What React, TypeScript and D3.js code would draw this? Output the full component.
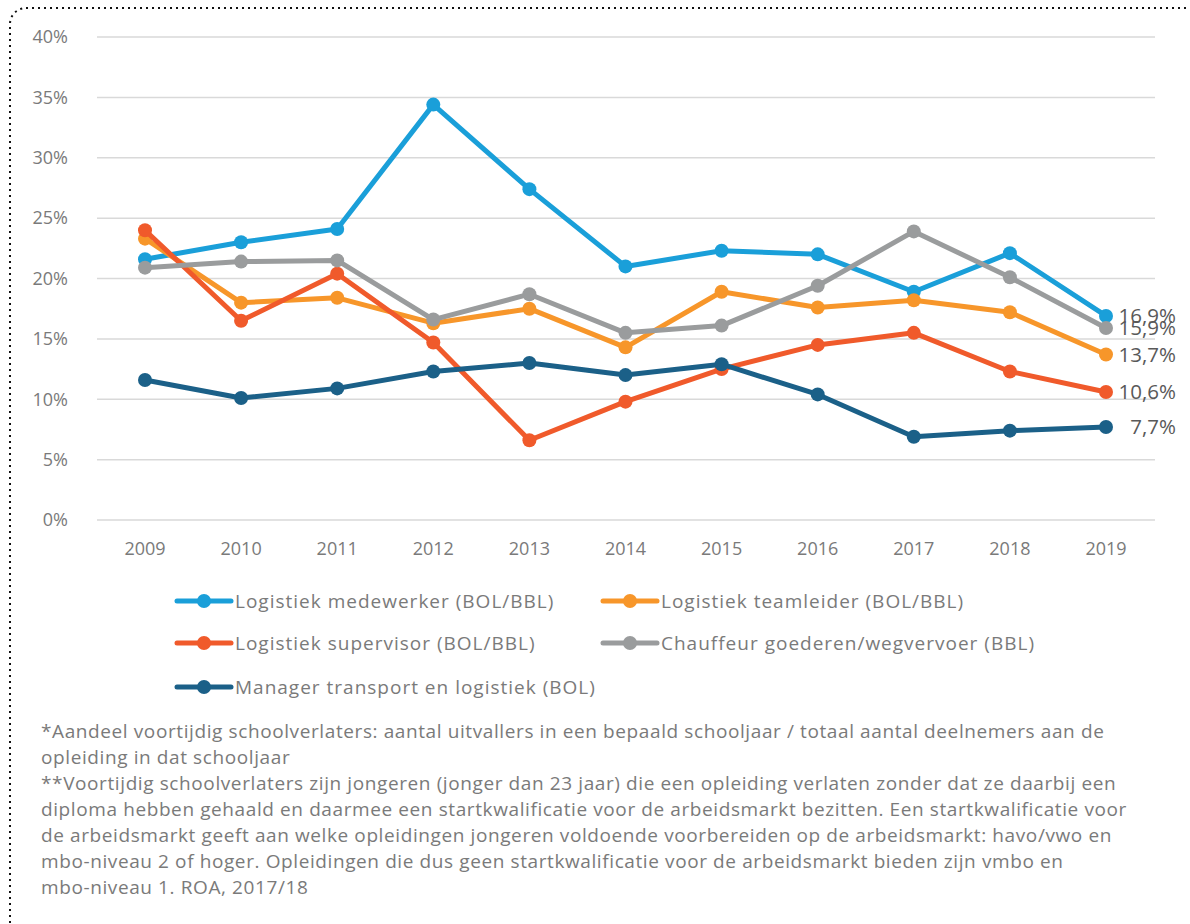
import * as d3 from 'd3'

const years = [2009, 2010, 2011, 2012, 2013, 2014, 2015, 2016, 2017, 2018, 2019]

const medewerker = [21.6, 23.0, 24.1, 34.4, 27.4, 21.0, 22.3, 22.0, 18.9, 22.1, 16.9]
const teamleider = [23.3, 18.0, 18.4, 16.3, 17.5, 14.3, 18.9, 17.6, 18.2, 17.2, 13.7]
const supervisor = [24.0, 16.5, 20.4, 14.7, 6.6, 9.8, 12.5, 14.5, 15.5, 12.3, 10.6]
const chauffeur = [20.9, 21.4, 21.5, 16.6, 18.7, 15.5, 16.1, 19.4, 23.9, 20.1, 15.9]
const manager = [11.6, 10.1, 10.9, 12.3, 13.0, 12.0, 12.9, 10.4, 6.9, 7.4, 7.7]

const yTicks = [0, 5, 10, 15, 20, 25, 30, 35, 40]

const series = [
  { name: 'Logistiek medewerker (BOL/BBL)', values: medewerker, color: '#1a9fd9' },
  { name: 'Logistiek teamleider (BOL/BBL)', values: teamleider, color: '#f7962a' },
  { name: 'Logistiek supervisor (BOL/BBL)', values: supervisor, color: '#f05a2b' },
  { name: 'Chauffeur goederen/wegvervoer (BBL)', values: chauffeur, color: '#9a9c9d' },
  { name: 'Manager transport en logistiek (BOL)', values: manager, color: '#1b6088' },
]

const footnotes = [
  '*Aandeel voortijdig schoolverlaters: aantal uitvallers in een bepaald schooljaar / totaal aantal deelnemers aan de',
  'opleiding in dat schooljaar',
  '**Voortijdig schoolverlaters zijn jongeren (jonger dan 23 jaar) die een opleiding verlaten zonder dat ze daarbij een',
  'diploma hebben gehaald en daarmee een startkwalificatie voor de arbeidsmarkt bezitten. Een startkwalificatie voor',
  'de arbeidsmarkt geeft aan welke opleidingen jongeren voldoende voorbereiden op de arbeidsmarkt: havo/vwo en',
  'mbo-niveau 2 of hoger. Opleidingen die dus geen startkwalificatie voor de arbeidsmarkt bieden zijn vmbo en',
  'mbo-niveau 1. ROA, 2017/18',
]

const FONT = '"Open Sans", "Noto Sans", sans-serif'
const TEXT = '#7a7a7a'

export default function App() {
  const width = 1190
  const height = 924

  const x = d3.scalePoint<number>().domain(years).range([145, 1106])
  const y = d3.scaleLinear().domain([0, 40]).range([520, 37])

  const line = d3.line<number>()
    .x((_, i) => x(years[i]) as number)
    .y(d => y(d))

  const fmt = (v: number) => v.toFixed(1).replace('.', ',') + '%'

  // legend slots: two columns, three rows
  const legendPos = [
    { lx: 177, ly: 601 },
    { lx: 603, ly: 601 },
    { lx: 177, ly: 643 },
    { lx: 603, ly: 643 },
    { lx: 177, ly: 687 },
  ]

  return (
    <div style={{ position: 'absolute', left: 0, top: 0 }}>
      <svg width={width} height={height} style={{ display: 'block', fontFamily: FONT }}>
        <rect x={0} y={0} width={width} height={height} fill="#fff" />
        {/* dotted frame */}
        <rect x={10} y={8} width={1240} height={1000} rx={16}
          fill="none" stroke="#111" strokeWidth={2} strokeDasharray="2 4" />

        {/* grid */}
        {yTicks.map(t => (
          <g key={t}>
            <line x1={97} x2={1155} y1={y(t)} y2={y(t)} stroke="#d9d9d9" strokeWidth={1.5} />
            <text x={68} y={y(t)} dy="0.35em" textAnchor="end" fontSize={18} fill={TEXT}>{t}%</text>
          </g>
        ))}

        {years.map(yr => (
          <text key={yr} x={x(yr)} y={549} dy="0.35em" textAnchor="middle" fontSize={18} fill={TEXT}>{yr}</text>
        ))}

        {/* series */}
        {series.map(s => (
          <g key={s.name}>
            <path d={line(s.values) || ''} fill="none" stroke={s.color} strokeWidth={5} strokeLinejoin="round" />
            {s.values.map((v, i) => (
              <circle key={i} cx={x(years[i])} cy={y(v)} r={7} fill={s.color} />
            ))}
          </g>
        ))}

        {/* end labels */}
        {series.map(s => {
          const v = s.values[s.values.length - 1]
          return (
            <text key={s.name} x={1176} y={y(v)} dy="0.36em" textAnchor="end" fontSize={20.5} fill="#595959">{fmt(v)}</text>
          )
        })}

        {/* legend */}
        {series.map((s, i) => {
          const { lx, ly } = legendPos[i]
          return (
            <g key={s.name}>
              <line x1={lx} x2={lx + 54} y1={ly} y2={ly} stroke={s.color} strokeWidth={5} strokeLinecap="round" />
              <circle cx={lx + 27} cy={ly} r={7} fill={s.color} />
              <text x={lx + 58} y={ly} dy="0.35em" fontSize={19} letterSpacing={1} fill={TEXT}>{s.name}</text>
            </g>
          )
        })}

        {/* footnotes */}
        {footnotes.map((f, i) => (
          <text key={i} x={41} y={731 + i * 26} dy="0.35em" fontSize={19} letterSpacing={0.6} fill={TEXT}>{f}</text>
        ))}
      </svg>
    </div>
  )
}
